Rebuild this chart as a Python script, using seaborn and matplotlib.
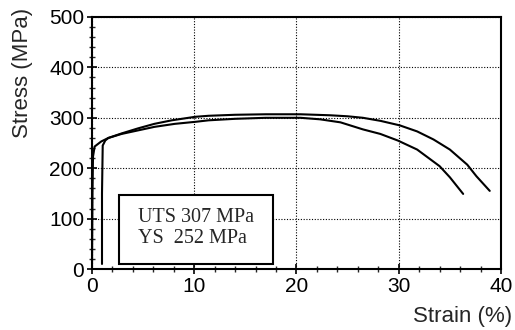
import matplotlib
matplotlib.use("Agg")
import matplotlib.pyplot as plt
import seaborn as sns
import pandas as pd
from matplotlib.patches import Rectangle
from matplotlib.ticker import MultipleLocator

# curve 1 (starts at zero strain, longer tail)
strain_a = [0.0, 0.05, 0.1, 0.26, 0.9, 1.6, 2.9, 4.5, 6.1, 7.8, 10.1, 11.4, 14.0, 17.0,
            20.4, 23.3, 25.0, 26.5, 28.2, 30.1, 31.8, 33.4, 35.0, 36.7, 37.6, 38.9]
stress_a = [0, 150, 223, 243, 253, 260, 269, 279, 288, 295, 302, 304, 306, 307,
            307, 305, 303, 300, 294, 285, 273, 257, 237, 207, 184, 155]

# curve 2 (offset start, shorter tail)
strain_b = [0.98, 0.98, 1.05, 1.3, 1.6, 2.9, 4.5, 6.1, 8.1, 10.1, 11.4, 14.0, 17.0,
            20.4, 22.3, 24.3, 26.5, 28.2, 29.9, 31.8, 33.4, 34.0, 35.0, 36.3]
stress_b = [10, 150, 245, 255, 260, 268, 275, 282, 288, 292, 295, 298, 300,
            300, 297, 291, 277, 268, 255, 237, 213, 204, 182, 149]

box_lines = ["UTS 307 MPa", "YS  252 MPa"]

sns.set_theme(style="white")
plt.rcParams["font.family"] = ["Liberation Sans", "DejaVu Sans"]

fig = plt.figure(figsize=(5.15, 3.3), dpi=100)
ax = fig.add_axes([0.1786, 0.1848, 0.7942, 0.7637])

df_a = pd.DataFrame({"strain": strain_a, "stress": stress_a})
df_b = pd.DataFrame({"strain": strain_b, "stress": stress_b})
sns.lineplot(data=df_a, x="strain", y="stress", sort=False, estimator=None,
             color="black", linewidth=1.5, ax=ax)
sns.lineplot(data=df_b, x="strain", y="stress", sort=False, estimator=None,
             color="black", linewidth=1.5, ax=ax)

ax.set_xlim(0, 40)
ax.set_ylim(0, 500)
ax.xaxis.set_major_locator(MultipleLocator(10))
ax.xaxis.set_minor_locator(MultipleLocator(2))
ax.yaxis.set_major_locator(MultipleLocator(100))
ax.yaxis.set_minor_locator(MultipleLocator(20))
ax.tick_params(which="major", direction="inout", length=7, width=1.2,
               labelsize=15, colors="black", pad=2)
ax.tick_params(which="minor", direction="inout", length=5, width=1.0)
ax.tick_params(top=False, right=False, which="both")
ax.tick_params(axis="both", which="both", bottom=True, left=True)

ax.grid(True, which="major", color="black", linestyle=(0, (1, 1.5)), linewidth=0.8)
for s in ax.spines.values():
    s.set_color("black")
    s.set_linewidth(1.5)

ax.set_xlabel("")
ax.set_ylabel("")
fig.text(0.995, 0.01, "Strain (%)", ha="right", va="bottom", fontsize=16)
fig.text(0.043, 0.975, "Stress (MPa)", rotation=90, ha="center", va="top", fontsize=16)

ax.add_patch(Rectangle((2.65, 10), 15.05, 136, fill=True, facecolor="white",
                       edgecolor="black", linewidth=1.5, zorder=5))
ax.text(4.5, 103, box_lines[0], fontsize=14.5, family="Liberation Serif",
        va="center", ha="left", zorder=6)
ax.text(4.5, 60, box_lines[1], fontsize=14.5, family="Liberation Serif",
        va="center", ha="left", zorder=6)

fig.savefig("out.png", dpi=100, facecolor="white")
